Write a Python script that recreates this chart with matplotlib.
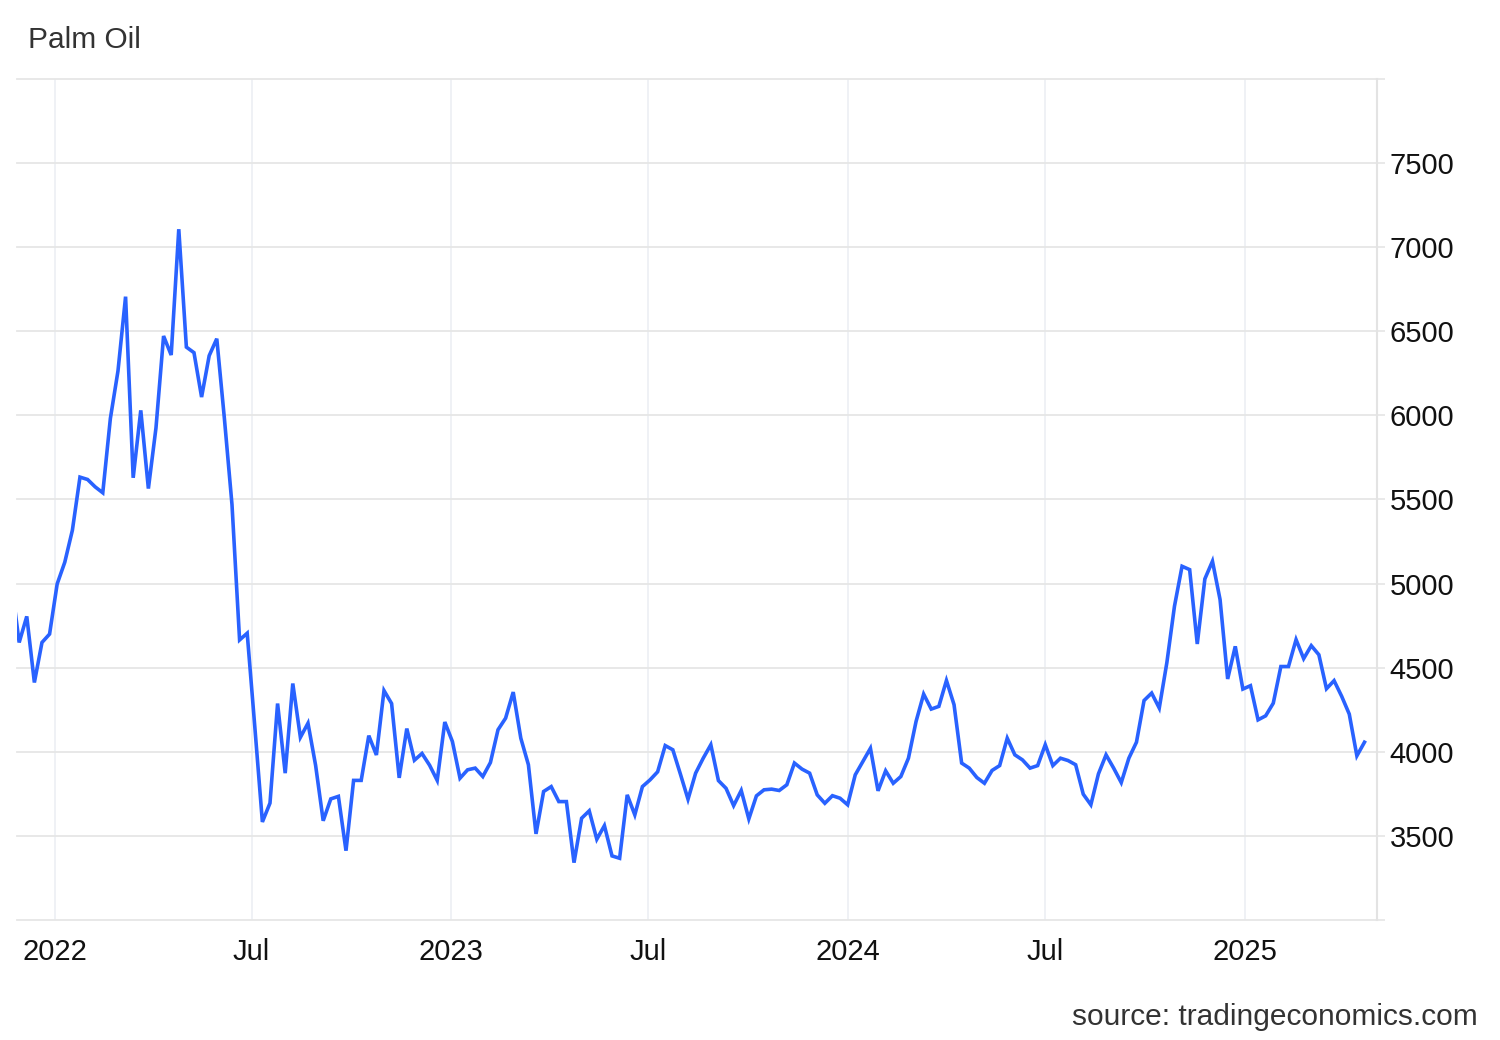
import matplotlib
matplotlib.use("Agg")
import matplotlib.pyplot as plt
import matplotlib.dates as mdates
import pandas as pd

plt.rcParams['font.family'] = ['Liberation Sans', 'DejaVu Sans']

title = "Palm Oil"
source = "source: tradingeconomics.com"

start_date = "2021-11-22"
prices = [
    5000,
    4650, 4805, 4412, 4650, 4700, 4998, 5127, 5317, 5633, 5619,
    5575, 5540, 5982, 6264, 6706, 5629, 6030, 5565, 5926, 6472,
    6359, 7107, 6406, 6373, 6109, 6355, 6456, 5982, 5470, 4665,
    4705, 4150, 3583, 3695, 4287, 3873, 4406, 4086, 4170, 3920,
    3590, 3720, 3735, 3412, 3830, 3830, 4096, 3981, 4364, 4287,
    3845, 4138, 3950, 3990, 3920, 3830, 4177, 4061, 3843, 3893,
    3903, 3853, 3936, 4131, 4200, 4355, 4081, 3923, 3512, 3764,
    3793, 3704, 3704, 3341, 3605, 3649, 3480, 3561, 3381, 3367,
    3744, 3625, 3793, 3833, 3881, 4037, 4012, 3867, 3718, 3873,
    3962, 4042, 3829, 3783, 3680, 3770, 3601, 3738, 3774, 3778,
    3770, 3804, 3933, 3897, 3873, 3744, 3694, 3739, 3724, 3685,
    3863, 3942, 4021, 3768, 3887, 3813, 3853, 3962, 4180, 4343,
    4254, 4270, 4424, 4280, 3933, 3903, 3847, 3813, 3889, 3918,
    4081, 3982, 3952, 3903, 3918, 4042, 3918, 3962, 3948, 3923,
    3748, 3685, 3869, 3982, 3903, 3817, 3962, 4057, 4305, 4349,
    4260, 4530, 4865, 5103, 5083, 4641, 5028, 5133, 4905, 4433,
    4627, 4373, 4393, 4190, 4214, 4289, 4507, 4507, 4667, 4554,
    4631, 4577, 4375, 4423, 4330, 4224, 3976, 4057,
]
dates = pd.date_range(start=start_date, periods=len(prices), freq="7D")

y_ticks = [3000, 3500, 4000, 4500, 5000, 5500, 6000, 6500, 7000, 7500, 8000]
x_tick_dates = ["2022-01-01", "2022-07-01", "2023-01-01", "2023-07-01",
                "2024-01-01", "2024-07-01", "2025-01-01"]
x_tick_labels = ["2022", "Jul", "2023", "Jul", "2024", "Jul", "2025"]

W, H = 1500, 1040
fig = plt.figure(figsize=(W / 100, H / 100), dpi=100)
ax = fig.add_axes([17 / W, 1 - 920 / H, (1377 - 17) / W, (920 - 79) / H])

ax.plot(dates, prices, color="#2962ff", linewidth=2.6, solid_joinstyle="miter",
        zorder=3, clip_on=True)

ref = mdates.date2num(pd.Timestamp("2022-01-01"))
ax.set_xlim(ref - 38 / 1.0858, ref + 1322 / 1.0858)
ax.set_ylim(3000, 8000)

ax.set_yticks(y_ticks)
ax.set_yticklabels(["" if (v == 3000 or v == 8000) else str(v) for v in y_ticks])
ax.yaxis.tick_right()
ax.set_xticks([mdates.date2num(pd.Timestamp(d)) for d in x_tick_dates])
ax.set_xticklabels(x_tick_labels)

for s in ["left", "top", "bottom"]:
    ax.spines[s].set_visible(False)
ax.spines["right"].set_color("#e3e3e3")
ax.spines["right"].set_linewidth(1.5)

ax.tick_params(axis="y", which="both", length=6, width=1.1, color="#e3e3e3",
               labelsize=21, labelcolor="#111111", pad=3)
ax.tick_params(axis="x", which="both", length=0, labelsize=21,
               labelcolor="#111111", pad=13)

ax.grid(axis="y", color="#e6e6e6", linewidth=1.3, zorder=0)
ax.grid(axis="x", color="#eef0f4", linewidth=1.3, zorder=0)
ax.set_axisbelow(True)
for gl in ax.get_ygridlines():
    gl.set_clip_on(False)

fig.text(28 / W, 1 - 40 / H, title, fontsize=21.5, color="#333333",
         ha="left", va="center")
fig.text(1478 / W, 1 - 1017 / H, source, fontsize=21.5, color="#333333",
         ha="right", va="center")

fig.savefig("out.png", dpi=100, facecolor="white")
